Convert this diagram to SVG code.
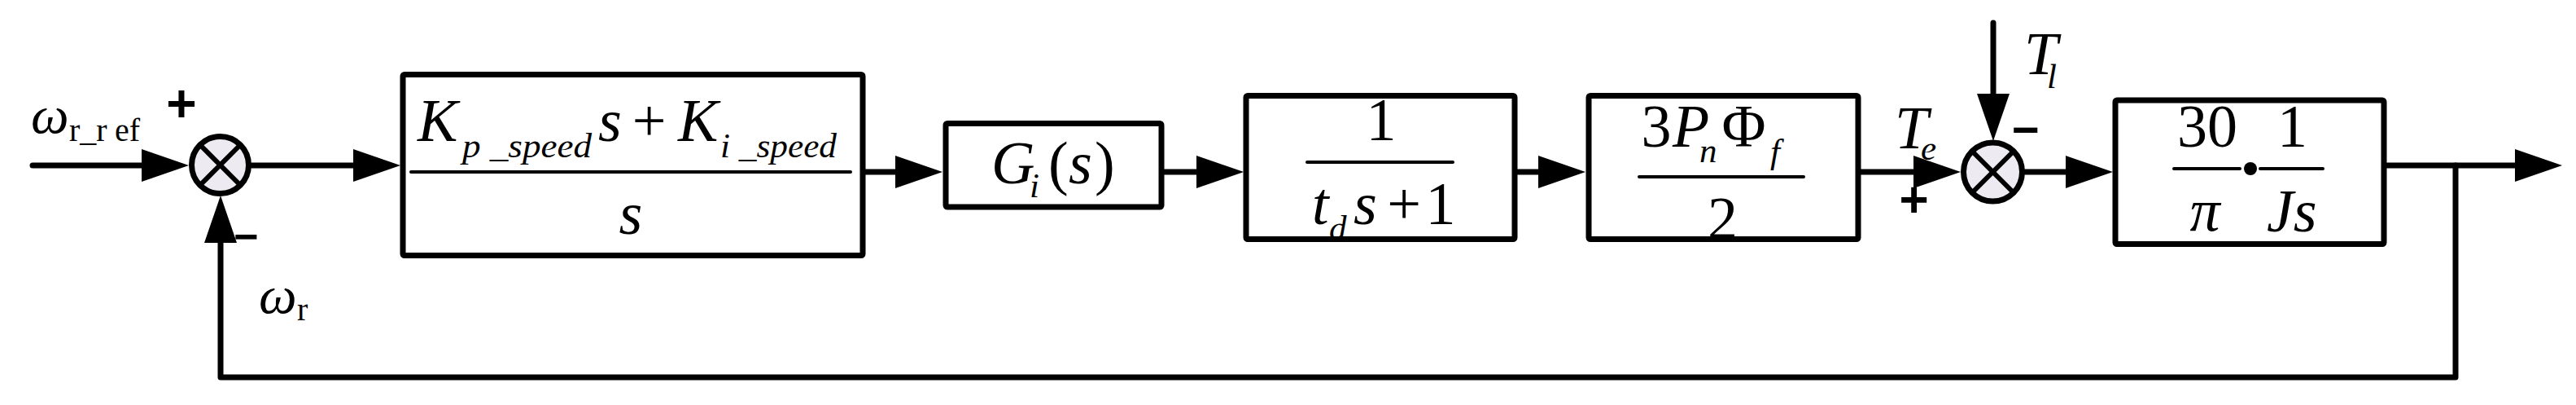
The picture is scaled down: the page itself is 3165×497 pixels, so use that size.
<svg xmlns="http://www.w3.org/2000/svg" width="3165" height="497" viewBox="0 0 3165 497">
<defs>
<style>
.ln{stroke:#000;stroke-width:7;fill:none;stroke-linecap:round;stroke-linejoin:round}
.box{fill:none;stroke:#000;stroke-width:7;stroke-linejoin:round}
.frac{stroke:#000;stroke-width:4;stroke-linecap:round}
.sumc{fill:#EEEAF2;stroke:#000;stroke-width:7}
.x{stroke:#000;stroke-width:6}
.m{font-family:"Liberation Serif","Times New Roman",serif;font-size:74px;fill:#000}
.i{font-style:italic}
.sub{font-family:"Liberation Serif","Times New Roman",serif;font-size:43px;font-style:italic;fill:#000}
.w{font-family:"Liberation Serif","Times New Roman",serif;font-size:66px;font-style:italic;fill:#000}
.wsub{font-family:"Liberation Serif","Times New Roman",serif;font-size:40px;fill:#000}
.sgn{font-family:"Liberation Sans",Arial,sans-serif;font-weight:bold;fill:#000;text-anchor:middle}
</style>
<marker id="ah" markerUnits="userSpaceOnUse" viewBox="0 0 58 40" markerWidth="58" markerHeight="40" refX="3" refY="20" orient="auto">
<path d="M0,0 L58,20 L0,40 z" fill="#000"/>
</marker>
</defs>
<rect x="0" y="0" width="3165" height="497" fill="#fff"/>

<g id="labels">
<text class="w" x="38" y="163">ω</text>
<text class="wsub" x="85" y="173">r_r</text>
<text class="wsub" x="141" y="173">ef</text>
<text class="w" x="318" y="384">ω</text>
<text class="wsub" x="365" y="393">r</text>
<text class="sgn" x="223" y="149" font-size="64">+</text>
<text class="sgn" x="302.5" y="308" font-size="52">−</text>
<text class="m i" x="2328" y="182">T</text>
<text class="sub" x="2360" y="196">e</text>
<text class="m i" x="2487" y="91">T</text>
<text class="sub" x="2515" y="108">l</text>
<text class="sgn" x="2489" y="179" font-size="58">−</text>
<text class="sgn" x="2351.5" y="266" font-size="62">+</text>
</g>

<g id="box1">
<text class="m i" x="513" y="173">K</text>
<text class="sub" x="568" y="193" textLength="159" lengthAdjust="spacingAndGlyphs">p _speed</text>
<text class="m i" x="735" y="173">s</text>
<text class="m" x="797.5" y="173" text-anchor="middle">+</text>
<text class="m i" x="833" y="173">K</text>
<text class="sub" x="885" y="193" textLength="143" lengthAdjust="spacingAndGlyphs">i _speed</text>
<line class="frac" x1="505" y1="211" x2="1045" y2="211"/>
<text class="m i" x="775" y="287" text-anchor="middle">s</text>
<rect class="box" x="495" y="91.5" width="565" height="222" rx="2"/>
</g>

<g id="box2">
<text class="m i" x="1218" y="225">G</text>
<text class="sub" x="1265" y="242">i</text>
<text class="m" x="1288" y="225">(</text>
<text class="m i" x="1313" y="225">s</text>
<text class="m" x="1345" y="225">)</text>
<rect class="box" x="1162" y="151.5" width="265" height="102.5" rx="2"/>
</g>

<g id="box3">
<text class="m" x="1697" y="172" text-anchor="middle">1</text>
<line class="frac" x1="1606" y1="199" x2="1785" y2="199"/>
<text class="m i" x="1612" y="275">t</text>
<text class="sub" x="1633" y="294">d</text>
<text class="m i" x="1663" y="275">s</text>
<text class="m" x="1725" y="275" text-anchor="middle">+</text>
<text class="m" x="1770" y="275" text-anchor="middle">1</text>
<rect class="box" x="1531" y="117.5" width="330" height="176" rx="2"/>
</g>

<g id="box4">
<text class="m" x="2035" y="180" text-anchor="middle">3</text>
<text class="m i" x="2055" y="180">P</text>
<text class="sub" x="2088" y="199">n</text>
<text class="m" x="2142.5" y="180" text-anchor="middle">Φ</text>
<text class="sub" x="2175" y="200">f</text>
<line class="frac" x1="2014" y1="217" x2="2216" y2="217"/>
<text class="m" x="2116.5" y="293" text-anchor="middle">2</text>
<rect class="box" x="1952" y="117.5" width="331" height="176" rx="2"/>
</g>

<g id="box5">
<text class="m" x="2712" y="180" text-anchor="middle">30</text>
<text class="m" x="2816.5" y="180" text-anchor="middle">1</text>
<line class="frac" x1="2671" y1="207" x2="2752" y2="207"/>
<circle cx="2765" cy="207" r="8" fill="#000"/>
<line class="frac" x1="2777" y1="207" x2="2854" y2="207"/>
<text class="m i" x="2709" y="283" text-anchor="middle">π</text>
<text class="m i" x="2785" y="284">Js</text>
<rect class="box" x="2599" y="123" width="330" height="176.5" rx="2"/>
</g>

<g id="sum1">
<circle class="sumc" cx="270.5" cy="202.5" r="35"/>
<line class="x" x1="245.5" y1="177.5" x2="295.5" y2="227.5"/>
<line class="x" x1="295.5" y1="177.5" x2="245.5" y2="227.5"/>
</g>

<g id="sum2">
<circle class="sumc" cx="2448.5" cy="211" r="36"/>
<line class="x" x1="2422.5" y1="185" x2="2474.5" y2="237"/>
<line class="x" x1="2474.5" y1="185" x2="2422.5" y2="237"/>
</g>

<g id="connectors">
<path class="ln" d="M40,203 H177" marker-end="url(#ah)"/>
<path class="ln" d="M309,203 H437" marker-end="url(#ah)"/>
<path class="ln" d="M3017,203 V463 H271 V295" marker-end="url(#ah)"/>
<path class="ln" d="M1063,211 H1103" marker-end="url(#ah)"/>
<path class="ln" d="M1431,211 H1473" marker-end="url(#ah)"/>
<path class="ln" d="M1865,211 H1893" marker-end="url(#ah)"/>
<path class="ln" d="M2286,211 H2354" marker-end="url(#ah)"/>
<path class="ln" d="M2449,28 V118" marker-end="url(#ah)"/>
<path class="ln" d="M2488,211 H2541" marker-end="url(#ah)"/>
<path class="ln" d="M2933,203 H3093" marker-end="url(#ah)"/>
</g>
</svg>
